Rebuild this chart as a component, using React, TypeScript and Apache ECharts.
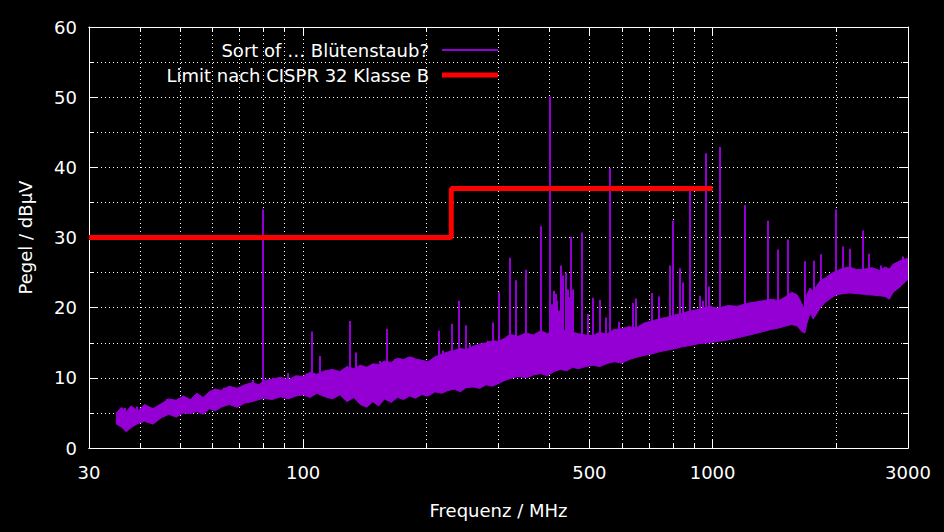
import React, { useEffect, useRef } from 'react';
import * as echarts from 'echarts';

const seriesName = 'Sort of … Blütenstaub?';
const limitName = 'Limit nach CISPR 32 Klasse B';

// Dense spectrum read as a lower / upper envelope (MHz, dBµV)
const bandFreq = [35, 36, 37, 38, 39.5, 41, 43, 45, 47, 49, 51, 53, 55, 57, 59, 61, 63, 66, 69, 72, 75, 78, 80, 84, 88, 92, 96, 100, 104, 108, 113, 118, 123, 128, 133, 138, 143, 148, 153, 158, 164, 170, 176, 182, 188, 195, 202, 210, 218, 226, 234, 242, 250, 260, 270, 280, 290, 300, 310, 320, 335, 350, 365, 380, 395, 410, 425, 440, 455, 470, 490, 510, 530, 550, 575, 600, 625, 650, 680, 710, 740, 770, 800, 840, 880, 930, 980, 1030, 1090, 1150, 1210, 1270, 1330, 1390, 1450, 1510, 1560, 1610, 1650, 1680, 1700, 1730, 1760, 1790, 1830, 1880, 1940, 2000, 2080, 2160, 2250, 2350, 2450, 2560, 2640, 2700, 2760, 2850, 2930, 3000];
const bandLow = [3.4, 3.0, 2.3, 2.9, 3.5, 3.8, 3.4, 4.3, 4.8, 4.4, 5.0, 4.9, 5.2, 4.8, 5.6, 5.3, 5.8, 6.2, 5.8, 6.4, 6.6, 6.9, 7.1, 6.9, 7.3, 7.0, 7.4, 7.6, 7.2, 7.8, 7.3, 7.0, 7.6, 6.6, 7.2, 6.2, 5.8, 6.6, 6.0, 7.0, 6.5, 7.2, 6.9, 7.4, 7.1, 7.6, 7.4, 8.0, 7.8, 8.2, 8.4, 8.0, 8.6, 8.7, 8.5, 9.0, 8.8, 9.2, 9.6, 9.9, 10.2, 10.0, 10.4, 10.6, 10.3, 10.9, 11.2, 11.0, 11.5, 11.3, 11.6, 11.8, 11.6, 12.0, 12.3, 12.1, 12.6, 12.9, 13.2, 13.4, 13.7, 13.9, 14.1, 14.4, 14.6, 14.9, 15.0, 15.2, 15.4, 15.7, 16.0, 16.3, 16.6, 16.9, 17.1, 17.4, 17.6, 17.4, 16.6, 16.4, 17.8, 19.2, 18.4, 19.0, 20.0, 20.7, 21.3, 21.8, 22.0, 22.1, 22.0, 21.9, 21.8, 21.7, 21.6, 21.2, 22.2, 22.8, 23.5, 24.0];
const bandHigh = [5.0, 5.8, 5.2, 6.0, 5.3, 6.2, 5.6, 6.3, 7.0, 6.8, 7.4, 6.9, 7.8, 7.2, 8.0, 8.4, 8.2, 8.8, 8.5, 9.0, 9.3, 9.0, 9.6, 9.8, 10.1, 9.7, 10.3, 10.2, 10.8, 10.5, 11.0, 11.2, 10.9, 11.6, 11.3, 11.8, 11.5, 12.0, 11.9, 12.4, 12.2, 12.8, 12.6, 13.0, 12.7, 12.5, 12.3, 13.0, 13.4, 13.7, 13.9, 14.2, 14.0, 14.5, 14.8, 15.0, 15.3, 15.2, 15.6, 16.2, 15.9, 16.4, 16.1, 16.7, 16.3, 16.8, 16.4, 16.9, 16.5, 16.3, 16.1, 16.0, 16.5, 16.2, 16.9, 17.0, 17.3, 17.1, 17.8, 18.1, 18.4, 18.6, 18.9, 19.2, 19.5, 19.8, 20.2, 19.9, 20.3, 20.2, 20.6, 20.8, 21.0, 21.2, 21.0, 21.6, 22.2, 21.8, 20.6, 19.6, 21.9, 22.8, 22.3, 23.0, 23.8, 24.2, 24.8, 25.2, 25.6, 25.8, 25.4, 25.5, 25.7, 25.3, 25.8, 25.5, 26.2, 26.6, 26.9, 27.0];

// Single narrow peaks (MHz, dBµV)
const spikeFreq = [36.7, 39.3, 46.5, 51.8, 59.2, 60.9, 64.1, 75.4, 80, 84.4, 91.9, 102.2, 105, 110, 130, 135, 154, 160, 167.6, 185.5, 215, 219.5, 231, 240, 250, 255.5, 270.3, 282.8, 291, 301, 320, 331, 350, 381, 401, 405, 410, 415, 418, 422, 426, 432, 438, 443, 447, 451, 455, 480, 496, 510, 531, 549, 562, 591, 639, 650, 711, 740, 787, 800, 832, 847, 880, 932, 947, 963, 980, 1042, 1200, 1366, 1444, 1528, 1681, 1769, 1840, 2001, 2082, 2165, 2330, 2410, 2578, 2917];
const spikePeak = [5.7, 5.9, 7.0, 7.2, 7.5, 8.4, 8.6, 9.7, 34.0, 10.0, 10.7, 10.6, 16.6, 13.1, 18.1, 13.6, 12.4, 17.0, 12.7, 12.9, 16.7, 13.9, 17.7, 21.0, 17.5, 14.8, 14.1, 15.3, 17.9, 22.2, 27.1, 23.9, 25.4, 31.6, 50.1, 20.5, 22.4, 22.0, 21.0, 19.6, 26.0, 24.6, 25.0, 22.6, 21.5, 30.1, 22.6, 30.7, 19.1, 21.4, 21.1, 18.6, 39.9, 18.0, 20.7, 21.3, 22.1, 21.6, 26.0, 32.4, 25.6, 23.6, 36.7, 21.7, 21.0, 42.0, 23.0, 42.9, 34.6, 32.4, 28.3, 29.7, 26.6, 26.7, 27.6, 34.0, 28.7, 28.4, 31.0, 27.7, 26.0, 27.3];

// CISPR 32 class B limit
const limitFreq = [30, 230, 1000];
const limitLevel = [30, 37, 37];

// Axis ticks
const xLabelValues = [30, 100, 500, 1000, 3000];
const xGridValues = [40, 50, 60, 70, 80, 90, 100, 200, 300, 400, 500, 600, 700, 800, 900, 1000, 2000];

const PURPLE = '#9400d3';
const RED = '#ff0000';
const FONT = "'DejaVu Sans', sans-serif";
const FONT_SIZE = 18;
const X_MIN = 30;
const X_MAX = 3000;

const lg = (v: number) => Math.log10(v);

function baseFor(f: number): number {
  let idx = 0;
  for (let i = 0; i < bandFreq.length; i++) {
    if (bandFreq[i] <= f) idx = i;
  }
  return (bandLow[idx] + bandHigh[idx]) / 2;
}

export default function App() {
  const ref = useRef<HTMLDivElement>(null);

  useEffect(() => {
    if (!ref.current) return;
    const chart = echarts.init(ref.current, null, { renderer: 'svg' });

    const dotted = { color: '#ffffff', width: 1, type: [1, 3] as any };
    const white = { color: '#ffffff', width: 1 };
    const txt = { color: '#ffffff', fontSize: FONT_SIZE, fontFamily: FONT, fontWeight: 'normal' as any };

    const logAxisBase = {
      type: 'value',
      min: lg(X_MIN),
      max: lg(X_MAX),
      gridIndex: 0,
      axisLine: { show: true, lineStyle: white },
      axisLabel: { show: false },
      splitLine: { show: false },
    };

    const legendBase = {
      right: 446,
      align: 'right',
      orient: 'vertical',
      padding: 0,
      itemWidth: 56,
      selectedMode: false,
      textStyle: { ...txt, padding: [0, 8, 0, 0], lineHeight: 20 },
    };

    const option: any = {
      animation: false,
      backgroundColor: '#000000',
      textStyle: { fontFamily: FONT },
      grid: { left: 89, right: 36, top: 27, bottom: 84, containLabel: false },
      legend: [
        {
          ...legendBase,
          data: [{ name: seriesName, icon: 'rect', itemStyle: { color: PURPLE } }],
          top: 40,
          itemHeight: 2,
        },
        {
          ...legendBase,
          data: [{ name: limitName, icon: 'rect', itemStyle: { color: RED } }],
          top: 65,
          itemHeight: 5,
        },
      ],
      xAxis: [
        { type: 'log', logBase: 10, min: X_MIN, max: X_MAX, show: false, gridIndex: 0 },
        {
          ...logAxisBase,
          position: 'bottom',
          name: 'Frequenz / MHz',
          nameLocation: 'middle',
          nameGap: 53,
          nameTextStyle: txt,
          axisTick: { show: true, inside: true, length: 9, lineStyle: white, customValues: xLabelValues.map(lg) },
          axisLabel: {
            show: true,
            ...txt,
            margin: 15,
            customValues: xLabelValues.map(lg),
            formatter: (v: number) => String(Math.round(Math.pow(10, v))),
          },
        },
        {
          ...logAxisBase,
          position: 'bottom',
          axisTick: { show: true, inside: true, length: 5, lineStyle: white, customValues: xGridValues.map(lg) },
          splitLine: { show: true, lineStyle: dotted },
        },
        {
          ...logAxisBase,
          position: 'top',
          axisTick: { show: true, inside: true, length: 9, lineStyle: white, customValues: xLabelValues.map(lg) },
        },
        {
          ...logAxisBase,
          position: 'top',
          axisTick: { show: true, inside: true, length: 5, lineStyle: white, customValues: xGridValues.map(lg) },
        },
      ],
      yAxis: [
        {
          type: 'value',
          min: 0,
          max: 60,
          interval: 10,
          position: 'left',
          name: 'Pegel / dBµV',
          nameLocation: 'middle',
          nameGap: 55,
          nameTextStyle: txt,
          axisLine: { show: true, lineStyle: white },
          axisTick: { show: true, inside: true, length: 9, lineStyle: white },
          minorTick: { show: true, splitNumber: 2, length: 5, lineStyle: white },
          axisLabel: { ...txt, margin: 12 },
          splitLine: { show: true, lineStyle: dotted },
          minorSplitLine: { show: true, lineStyle: dotted },
        },
        {
          type: 'value',
          min: 0,
          max: 60,
          interval: 10,
          position: 'right',
          axisLine: { show: true, lineStyle: white },
          axisTick: { show: true, inside: true, length: 9, lineStyle: white },
          minorTick: { show: true, splitNumber: 2, length: 5, lineStyle: white },
          axisLabel: { show: false },
          splitLine: { show: false },
        },
      ],
      series: [
        {
          name: seriesName,
          type: 'custom',
          xAxisIndex: 0,
          yAxisIndex: 0,
          clip: true,
          itemStyle: { color: PURPLE },
          data: bandFreq.map((f, i) => [f, bandLow[i], bandHigh[i]]),
          encode: { x: 0, y: [1, 2] },
          renderItem: (params: any, api: any) => {
            if (params.dataIndex !== 0) return null;
            const top = bandFreq.map((f, i) => api.coord([f, bandHigh[i]]));
            const bottom = bandFreq.map((f, i) => api.coord([f, bandLow[i]])).reverse();
            return {
              type: 'polygon',
              shape: { points: top.concat(bottom) },
              style: { fill: PURPLE, stroke: PURPLE, lineWidth: 1 },
            };
          },
        },
        {
          name: seriesName,
          type: 'custom',
          xAxisIndex: 0,
          yAxisIndex: 0,
          clip: true,
          itemStyle: { color: PURPLE },
          data: spikeFreq.map((f, i) => [f, baseFor(f), spikePeak[i]]),
          encode: { x: 0, y: [1, 2] },
          renderItem: (params: any, api: any) => {
            const p1 = api.coord([api.value(0), api.value(1)]);
            const p2 = api.coord([api.value(0), api.value(2)]);
            const x = Math.round(p1[0]);
            return {
              type: 'line',
              shape: { x1: x, y1: p1[1], x2: x, y2: p2[1] },
              style: { stroke: PURPLE, lineWidth: 2 },
            };
          },
        },
        {
          name: limitName,
          type: 'line',
          xAxisIndex: 0,
          yAxisIndex: 0,
          step: 'end',
          showSymbol: false,
          symbol: 'none',
          itemStyle: { color: RED },
          lineStyle: { color: RED, width: 5 },
          data: limitFreq.map((f, i) => [f, limitLevel[i]]),
        },
      ],
    };

    chart.setOption(option);
    return () => chart.dispose();
  }, []);

  return (
    <div
      ref={ref}
      style={{ position: 'fixed', left: 0, top: 0, width: 944, height: 532, background: '#000' }}
    />
  );
}
